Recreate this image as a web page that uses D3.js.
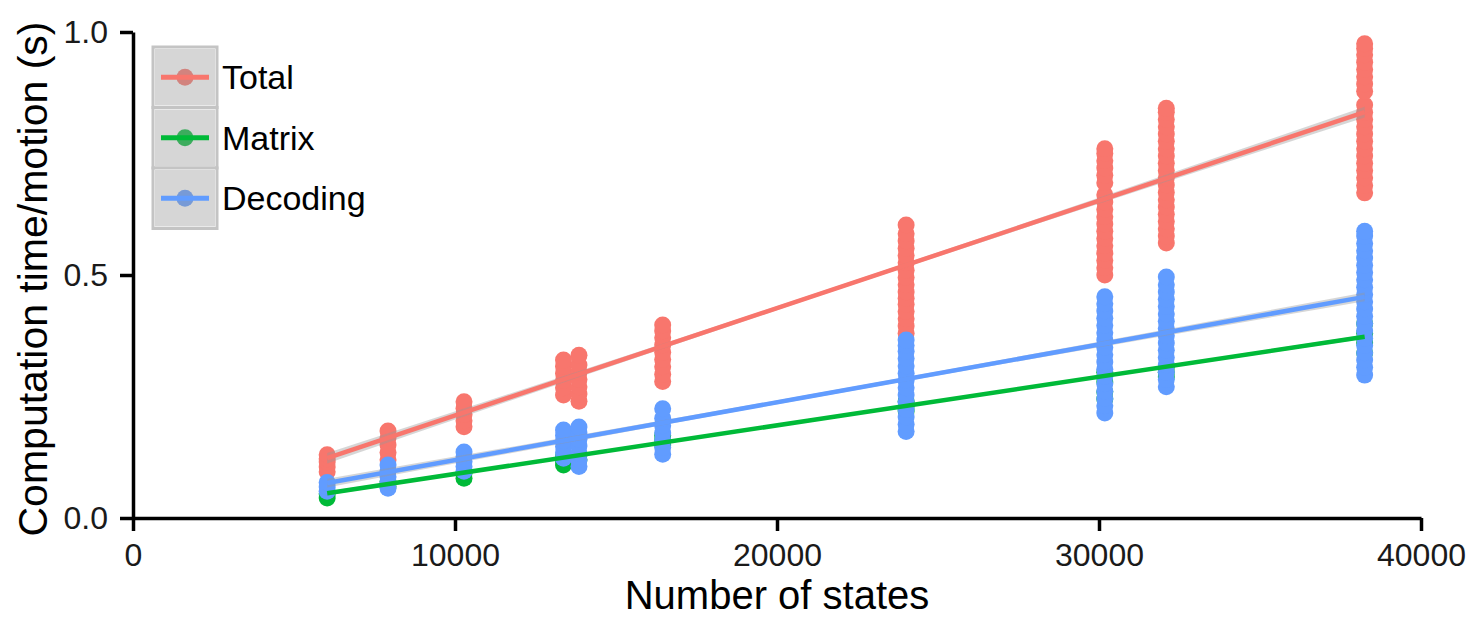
<!DOCTYPE html>
<html>
<head>
<meta charset="utf-8">
<script src="https://cdn.jsdelivr.net/npm/d3@7"></script>
<style>
  body { margin: 0; background: #fff; }
  svg { display: block; font-family: "Liberation Sans", Arial, sans-serif; }
</style>
</head>
<body>
<div id="chart"></div>
<script>
// number of states for each group of runs
const states = [6030, 7920, 10280, 13370, 13850, 16450, 24010, 30180, 32090, 38250];

// computation time per motion (s), one list per state count
const totalTimes = [
  [0.095, 0.105, 0.115, 0.122, 0.13],
  [0.12, 0.135, 0.15, 0.165, 0.179],
  [0.188, 0.2, 0.213, 0.226, 0.239],
  [0.253, 0.268, 0.283, 0.298, 0.312, 0.325],
  [0.24, 0.255, 0.27, 0.285, 0.3, 0.315, 0.335],
  [0.281, 0.296, 0.311, 0.326, 0.341, 0.356, 0.371, 0.385, 0.397],
  [0.38, 0.395, 0.41, 0.425, 0.44, 0.452, 0.465, 0.48, 0.495, 0.51, 0.525, 0.54, 0.555, 0.57, 0.585, 0.603],
  [0.5, 0.515, 0.53, 0.545, 0.56, 0.575, 0.59, 0.605, 0.62, 0.635, 0.65, 0.665, 0.69, 0.705, 0.72, 0.735, 0.75, 0.76],
  [0.566, 0.58, 0.595, 0.61, 0.625, 0.64, 0.655, 0.67, 0.685, 0.7, 0.715, 0.73, 0.745, 0.76, 0.775, 0.79, 0.805, 0.82, 0.835, 0.843],
  [0.669, 0.684, 0.7, 0.715, 0.73, 0.745, 0.76, 0.775, 0.79, 0.805, 0.82, 0.835, 0.85, 0.878, 0.893, 0.908, 0.923, 0.938, 0.953, 0.966, 0.976]
];

const matrixTimes = [
  [0.041, 0.05],
  [0.065, 0.075],
  [0.082, 0.092],
  [0.109, 0.118, 0.127],
  [0.12, 0.13],
  [0.15, 0.16, 0.17],
  [0.22, 0.23, 0.24],
  [0.245, 0.26, 0.28, 0.3],
  [0.29, 0.3, 0.31],
  [0.34, 0.36, 0.38, 0.4]
];

const decodingTimes = [
  [0.055, 0.064, 0.073],
  [0.061, 0.073, 0.085, 0.097, 0.109],
  [0.096, 0.106, 0.116, 0.126, 0.136],
  [0.123, 0.135, 0.147, 0.159, 0.17, 0.181],
  [0.106, 0.12, 0.134, 0.148, 0.162, 0.175, 0.187],
  [0.131, 0.145, 0.16, 0.175, 0.19, 0.205, 0.225],
  [0.178, 0.193, 0.208, 0.223, 0.238, 0.253, 0.268, 0.283, 0.298, 0.313, 0.328, 0.343, 0.355, 0.366],
  [0.216, 0.231, 0.246, 0.261, 0.276, 0.291, 0.306, 0.321, 0.336, 0.351, 0.366, 0.381, 0.396, 0.411, 0.426, 0.441, 0.455],
  [0.27, 0.285, 0.3, 0.315, 0.33, 0.345, 0.36, 0.375, 0.39, 0.405, 0.42, 0.435, 0.45, 0.465, 0.48, 0.496],
  [0.294, 0.31, 0.325, 0.34, 0.355, 0.37, 0.385, 0.4, 0.415, 0.43, 0.445, 0.46, 0.475, 0.49, 0.505, 0.52, 0.535, 0.55, 0.565, 0.58, 0.59]
];

// linear fit, read at the first state count, the centre and the last state count
const fitStates = [6030, 21000, 38250];
const totalFit = [0.123, 0.454, 0.835];
const matrixFit = [0.051, 0.2006, 0.373];
const decodingFit = [0.072, 0.25, 0.455];

// half width of the confidence band at the same three points
const totalBand = [0.011, 0.004, 0.011];
const matrixBand = [0.004, 0.002, 0.004];
const decodingBand = [0.009, 0.004, 0.009];

const seriesNames = ["Total", "Matrix", "Decoding"];
const xTicks = [0, 10000, 20000, 30000, 40000];
const yTicks = [0, 0.5, 1];

const width = 1478;
const height = 617;

const colors = { Total: "#F8766D", Matrix: "#00BA38", Decoding: "#619CFF" };

const series = [
  { name: "Total", times: totalTimes, fit: totalFit, band: totalBand },
  { name: "Matrix", times: matrixTimes, fit: matrixFit, band: matrixBand },
  { name: "Decoding", times: decodingTimes, fit: decodingFit, band: decodingBand }
];

const svg = d3.select("#chart")
  .append("svg")
  .attr("width", width)
  .attr("height", height);

const xScale = d3.scaleLinear().domain([0, 40000]).range([133, 1421]);
const yScale = d3.scaleLinear().domain([0, 1]).range([518, 32]);

// points
const pointsLayer = svg.append("g");
series.forEach(s => {
  const pts = s.times.flatMap((vals, i) => vals.map(v => ({ x: states[i], y: v })));
  pointsLayer.append("g")
    .attr("fill", colors[s.name])
    .selectAll("circle")
    .data(pts)
    .join("circle")
    .attr("cx", d => xScale(d.x))
    .attr("cy", d => yScale(d.y))
    .attr("r", 8.5);
});

// fit bands and lines
const fitLayer = svg.append("g");
series.forEach(s => {
  const rows = fitStates.map((x, i) => ({ x, y: s.fit[i], h: s.band[i] }));
  fitLayer.append("path")
    .datum(rows)
    .attr("fill", "#999999")
    .attr("fill-opacity", 0.4)
    .attr("d", d3.area()
      .x(d => xScale(d.x))
      .y0(d => yScale(d.y - d.h))
      .y1(d => yScale(d.y + d.h))
      .curve(d3.curveMonotoneX));
  fitLayer.append("path")
    .datum(rows)
    .attr("fill", "none")
    .attr("stroke", colors[s.name])
    .attr("stroke-width", 4.5)
    .attr("d", d3.line().x(d => xScale(d.x)).y(d => yScale(d.y)));
});

// axes
const xAxis = svg.append("g")
  .attr("transform", `translate(0, ${yScale(0)})`)
  .call(d3.axisBottom(xScale).tickValues(xTicks).tickSize(13).tickSizeOuter(0).tickPadding(12).tickFormat(d3.format("d")));

const yAxis = svg.append("g")
  .attr("transform", `translate(${xScale(0)}, 0)`)
  .call(d3.axisLeft(yScale).tickValues(yTicks).tickSize(13).tickSizeOuter(0).tickPadding(12).tickFormat(d3.format(".1f")));

[xAxis, yAxis].forEach(ax => {
  ax.select(".domain").attr("stroke", "#000").attr("stroke-width", 3.5);
  ax.selectAll(".tick line").attr("stroke", "#000").attr("stroke-width", 3.5);
  ax.selectAll(".tick text")
    .attr("fill", "#1a1a1a")
    .attr("font-size", "32px")
    .attr("font-family", "Liberation Sans, Arial, sans-serif");
});

svg.append("text")
  .attr("x", (xScale(0) + xScale(40000)) / 2)
  .attr("y", 609)
  .attr("text-anchor", "middle")
  .attr("font-size", "40px")
  .attr("fill", "#000")
  .text("Number of states");

svg.append("text")
  .attr("transform", `translate(47, ${(yScale(0) + yScale(1)) / 2 + 4}) rotate(-90)`)
  .attr("text-anchor", "middle")
  .attr("font-size", "41px")
  .attr("fill", "#000")
  .text("Computation time/motion (s)");

// legend
const legend = svg.append("g").attr("transform", "translate(153, 47)");
const keyW = 64, keyH = 60.5;

const items = legend.selectAll("g")
  .data(seriesNames)
  .join("g")
  .attr("transform", (d, i) => `translate(0, ${i * keyH})`);

items.append("rect")
  .attr("width", keyW)
  .attr("height", keyH)
  .attr("fill", "#ffffff")
  .attr("stroke", "#c4c4c4")
  .attr("stroke-width", 3);

items.append("circle")
  .attr("cx", keyW / 2)
  .attr("cy", keyH / 2)
  .attr("r", 8.5)
  .attr("fill", d => colors[d]);

items.append("rect")
  .attr("x", 2)
  .attr("y", 2)
  .attr("width", keyW - 4)
  .attr("height", keyH - 4)
  .attr("fill", "#999999")
  .attr("fill-opacity", 0.4);

items.append("line")
  .attr("x1", 8)
  .attr("x2", keyW - 8)
  .attr("y1", keyH / 2)
  .attr("y2", keyH / 2)
  .attr("stroke", d => colors[d])
  .attr("stroke-width", 5);

items.append("text")
  .attr("x", keyW + 5)
  .attr("y", keyH / 2)
  .attr("dy", "0.36em")
  .attr("font-size", "34px")
  .attr("fill", "#000")
  .text(d => d);
</script>
</body>
</html>
